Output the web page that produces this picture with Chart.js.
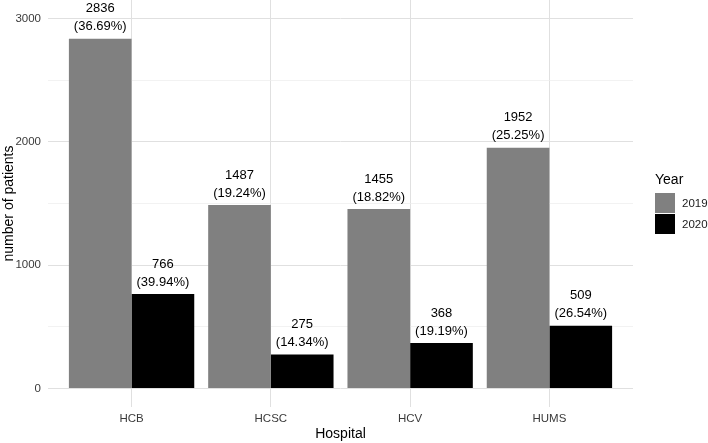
<!DOCTYPE html>
<html>
<head>
<meta charset="utf-8">
<script src="https://cdn.jsdelivr.net/npm/chart.js@4.4.1/dist/chart.umd.min.js"></script>
<style>
  html, body { margin: 0; padding: 0; background: #fff; }
  #wrap { width: 708px; height: 443px; }
</style>
</head>
<body>
<div id="wrap"><canvas id="myChart" width="708" height="443"></canvas></div>
<script>
const hospitals = ["HCB", "HCSC", "HCV", "HUMS"];
const years = ["2019", "2020"];
const patients2019 = [2836, 1487, 1455, 1952];
const patients2020 = [766, 275, 368, 509];
const share2019 = ["36.69", "19.24", "18.82", "25.25"];
const share2020 = ["39.94", "14.34", "19.19", "26.54"];
const yTicks = [0, 500, 1000, 1500, 2000, 2500, 3000];
const barColors = ["#808080", "#000000"];

const fontFamily = "'Liberation Sans', Arial, Helvetica, sans-serif";
Chart.defaults.font.family = fontFamily;

const majorGrid = "#e0e0e0";
const minorGrid = "#ededed";

// value + share label above every bar
const barLabels = {
  id: "barLabels",
  afterDatasetsDraw(chart) {
    const ctx = chart.ctx;
    const shares = [share2019, share2020];
    ctx.save();
    ctx.fillStyle = "#000";
    ctx.font = "13px " + fontFamily;
    ctx.textAlign = "center";
    ctx.textBaseline = "middle";
    chart.data.datasets.forEach((ds, d) => {
      const meta = chart.getDatasetMeta(d);
      meta.data.forEach((bar, i) => {
        ctx.fillText(String(ds.data[i].y), bar.x, bar.y - 30);
        ctx.fillText("(" + shares[d][i] + "%)", bar.x, bar.y - 12);
      });
    });
    ctx.restore();
  },
};

// ggplot-like legend on the right
const sideLegend = {
  id: "sideLegend",
  afterDraw(chart) {
    const ctx = chart.ctx;
    const x0 = chart.chartArea.right + 22;
    ctx.save();
    ctx.fillStyle = "#000";
    ctx.font = "14px " + fontFamily;
    ctx.textAlign = "left";
    ctx.textBaseline = "middle";
    ctx.fillText("Year", x0, 180);
    chart.data.datasets.forEach((ds, i) => {
      const y = 193 + i * 21;
      ctx.fillStyle = ds.backgroundColor;
      ctx.fillRect(x0, y, 20, 20);
      ctx.fillStyle = "#1a1a1a";
      ctx.font = "11.5px " + fontFamily;
      ctx.fillText(ds.label, x0 + 27, y + 10.5);
    });
    ctx.restore();
  },
};

const ctx = document.getElementById("myChart").getContext("2d");
const chart = new Chart(ctx, {
  type: "bar",
  data: {
    datasets: [
      {
        label: years[0],
        data: patients2019.map((v, i) => ({ x: i + 1, y: v })),
        backgroundColor: barColors[0],
        borderWidth: 0,
        categoryPercentage: 0.9,
        barPercentage: 1.0,
      },
      {
        label: years[1],
        data: patients2020.map((v, i) => ({ x: i + 1, y: v })),
        backgroundColor: barColors[1],
        borderWidth: 0,
        categoryPercentage: 0.9,
        barPercentage: 1.0,
      },
    ],
  },
  options: {
    responsive: false,
    animation: false,
    devicePixelRatio: 1,
    layout: { padding: { left: 0, right: 75, top: 0, bottom: 0 } },
    plugins: {
      legend: { display: false },
      tooltip: { enabled: false },
    },
    scales: {
      x: {
        type: "linear",
        min: 0.4,
        max: 4.6,
        offset: false,
        afterBuildTicks: (scale) => {
          scale.ticks = hospitals.map((h, i) => ({ value: i + 1 }));
        },
        afterFit: (scale) => {
          scale.height = 36;
          scale.paddingLeft = 0;
          scale.paddingRight = 0;
        },
        ticks: {
          autoSkip: false,
          maxRotation: 0,
          padding: 5,
          color: "#3a3a3a",
          font: { size: 11.5 },
          callback: (v) => hospitals[v - 1],
        },
        grid: { offset: false, color: majorGrid, lineWidth: 1, drawTicks: false },
        border: { display: false },
        title: {
          display: true,
          text: "Hospital",
          color: "#000",
          font: { size: 14 },
          padding: { top: 0, bottom: 0 },
        },
      },
      y: {
        type: "linear",
        min: -150,
        max: 3150,
        afterBuildTicks: (scale) => {
          scale.ticks = yTicks.map((v) => ({ value: v }));
        },
        afterFit: (scale) => {
          scale.width = 48;
          scale.paddingTop = 0;
          scale.paddingBottom = 0;
        },
        ticks: {
          padding: 7,
          color: "#3a3a3a",
          font: { size: 11.5 },
          callback: (v) => (v % 1000 === 0 ? v : ""),
        },
        grid: {
          drawTicks: false,
          color: (c) => (c.tick && c.tick.value % 1000 === 0 ? majorGrid : minorGrid),
          lineWidth: (c) => (c.tick && c.tick.value % 1000 === 0 ? 1 : 0.7),
        },
        border: { display: false },
        title: {
          display: true,
          text: "number of patients",
          color: "#000",
          font: { size: 14 },
          padding: { top: 1, bottom: 0 },
        },
      },
    },
  },
  plugins: [barLabels, sideLegend],
});
</script>
</body>
</html>
